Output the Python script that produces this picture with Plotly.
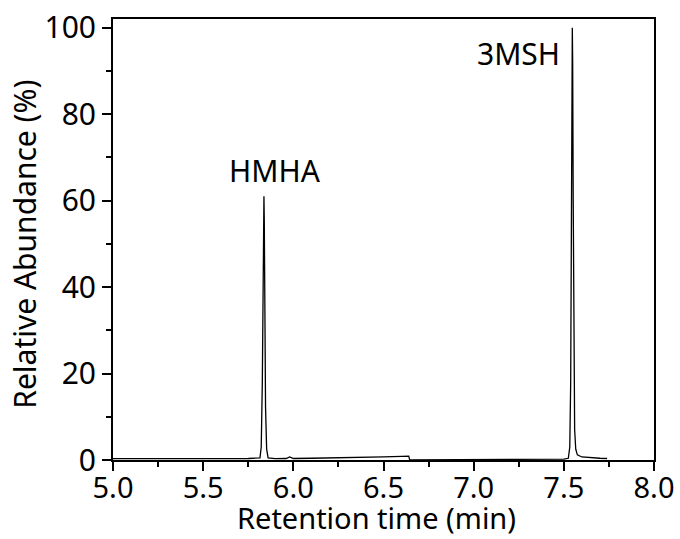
import plotly.graph_objects as go

# Retention time (min) and relative abundance (%)
time_min = [5.00, 5.20, 5.40, 5.60, 5.75, 5.815, 5.822, 5.828, 5.832, 5.835, 5.837,
            5.839, 5.842, 5.846, 5.852, 5.860, 5.90, 5.96, 5.98, 6.00, 6.10, 6.20,
            6.30, 6.40, 6.50, 6.60, 6.640, 6.645, 6.80, 7.00, 7.20, 7.40, 7.50,
            7.525, 7.533, 7.538, 7.542, 7.545, 7.547, 7.549, 7.552, 7.556, 7.560,
            7.566, 7.575, 7.60, 7.65, 7.70, 7.74]
abundance = [0.3, 0.3, 0.3, 0.35, 0.35, 0.5, 3.0, 18.0, 42.0, 57.0, 61.0,
             55.0, 35.0, 12.0, 2.5, 0.5, 0.3, 0.35, 0.7, 0.35, 0.4, 0.45,
             0.5, 0.6, 0.7, 0.85, 0.9, 0.05, 0.05, 0.05, 0.05, 0.1, 0.2,
             0.4, 3.0, 18.0, 55.0, 88.0, 100.0, 92.0, 60.0, 22.0, 7.0,
             2.5, 1.2, 0.7, 0.5, 0.4, 0.35]

peak_labels = ["HMHA", "3MSH"]
peak_label_x = [5.90, 7.247]
peak_label_y = [67.0, 94.0]

x_ticks = [5.0, 5.5, 6.0, 6.5, 7.0, 7.5, 8.0]
y_ticks = [0, 20, 40, 60, 80, 100]

x_title = "Retention time (min)"
y_title = "Relative Abundance (%)"

font = "Noto Sans"
fs = 30
fsx = 29

fig = go.Figure()
fig.add_trace(go.Scatter(x=time_min, y=abundance, mode="lines",
                         line=dict(color="black", width=1.3), showlegend=False))

for t, lx, ly in zip(peak_labels, peak_label_x, peak_label_y):
    fig.add_annotation(x=lx, y=ly, text=t, showarrow=False,
                       font=dict(family=font, size=fs, color="black"))

fig.add_annotation(xref="paper", yref="paper", x=0.487, y=-0.179, text=x_title,
                   showarrow=False, xanchor="center", yanchor="bottom",
                   font=dict(family=font, size=fsx, color="black"))
fig.add_annotation(xref="paper", yref="paper", x=-0.163, y=0.490, text=y_title,
                   showarrow=False, xanchor="center", yanchor="middle", textangle=-90,
                   font=dict(family=font, size=fs, color="black"))

fig.update_layout(
    width=680, height=539,
    margin=dict(l=113, r=26, t=19, b=79),
    paper_bgcolor="white", plot_bgcolor="white",
    font=dict(family=font, size=fs, color="black"),
)
fig.update_xaxes(
    range=[5.0, 8.0], tickvals=x_ticks, ticktext=[f"{v:.1f}" for v in x_ticks],
    showgrid=False, zeroline=False, automargin=False,
    showline=True, linecolor="black", linewidth=2, mirror=True,
    ticks="outside", ticklen=9, tickwidth=2, tickcolor="black",
    minor=dict(dtick=0.25, tick0=5.0, ticks="outside", ticklen=5, tickwidth=2, tickcolor="black"),
    tickfont=dict(size=fsx), ticklabelstandoff=-8,
)
fig.update_yaxes(
    range=[0, 102], tickvals=y_ticks,
    showgrid=False, zeroline=False, automargin=False,
    showline=True, linecolor="black", linewidth=2, mirror=True,
    ticks="outside", ticklen=9, tickwidth=2, tickcolor="black",
    minor=dict(dtick=10, tick0=0, ticks="outside", ticklen=5, tickwidth=2, tickcolor="black"),
    tickfont=dict(size=fs),
)

fig.write_html("out.html")
